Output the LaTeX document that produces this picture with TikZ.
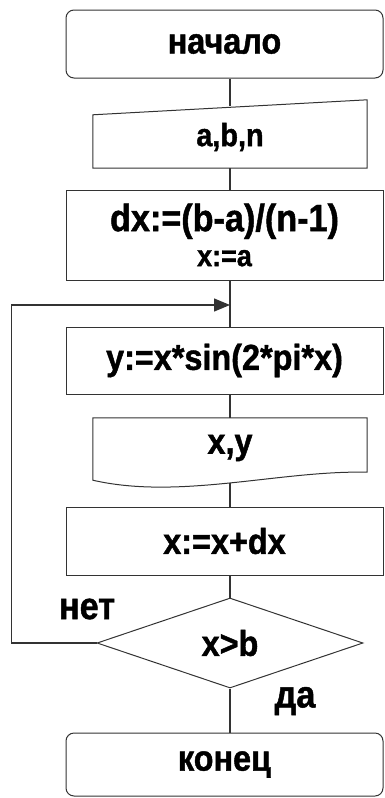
\documentclass[tikz,border=0pt]{standalone}
\usepackage{fontspec}
\setmainfont{Liberation Sans}[BoldFeatures={FakeBold=1.2, FakeStretch=0.9}]
\usetikzlibrary{shapes.geometric, arrows.meta}
\definecolor{line-gray}{HTML}{333333}

\begin{document}
\begin{tikzpicture}[x=1pt, y=-1pt,
      every node/.style={font=\bfseries\fontsize{36}{38}\selectfont},
      block/.style={draw=line-gray, line width=1pt, minimum width=317pt,
          minimum height=#1, inner sep=0pt},
      io/.style={minimum width=274pt, minimum height=#1, inner sep=0pt},
      border/.style={draw=line-gray, line width=1pt},
      flow/.style={draw=line-gray, line width=1.3pt}]
    \useasboundingbox (0,0) rectangle (385,798);
    \node[block=68pt, rounded corners=8pt] (start) at (224.5,44) {начало};
    \node[io=62pt, font=\bfseries\fontsize{32}{34}\selectfont] (input) at (230,137) {a,b,n};
    \draw[border] ([yshift=-9pt]input.north west) -- ([yshift=6pt]input.north east)
          -- (input.south east) -- (input.south west) -- cycle;
    \node[block=90pt, align=center] (init) at (224.5,235)
          {{\fontsize{38}{40}\selectfont dx:=(b-a)/(n-1)}\\[-3pt]{\fontsize{30}{32}\selectfont x:=a}};
    \coordinate (join) at (230,305);
    \node[block=67pt] (calc) at (224.5,360.5) {y:=x*sin(2*pi*x)};
    \node[io=60pt] (output) at (230,448) {x,y};
    \draw[border] (output.south west |- output.north) -- (output.north east)
          -- ([yshift=6pt]output.south east)
          .. controls +(-87,-2) and +(87,20) .. ([yshift=-2pt]output.south west)
          -- cycle;
    \node[block=68pt] (step) at (224.5,541) {x:=x+dx};
    \node[diamond, border, minimum width=266pt, minimum height=90pt,
          inner sep=0pt] (check) at (230,643) {x>b};
    \node[block=63pt, rounded corners=8pt] (stop) at (224.5,764.5) {конец};
    \draw[flow] (input.north |- start.south) -- (input.north);
    \draw[flow] (input.south) -- (input.south |- init.north);
    \draw[flow] (join |- init.south) -- (join |- calc.north);
    \draw[flow] (join |- calc.south) -- (output.north);
    \draw[flow] ([yshift=-4.5pt]output.south) -- (output.south |- step.north);
    \draw[flow] (check.north |- step.south) -- (check.north);
    \draw[flow] (check.south) -- (check.south |- stop.north);
    \draw[flow, -{Triangle[length=16pt, width=13pt]}] (check.west) -- ++(-85,0) |- (join);
    \node[font=\bfseries\fontsize{38}{40}\selectfont] (no) at (87,609) {нет};
    \node[font=\bfseries\fontsize{38}{40}\selectfont] (yes) at (295,701) {да};
\end{tikzpicture}
\end{document}
